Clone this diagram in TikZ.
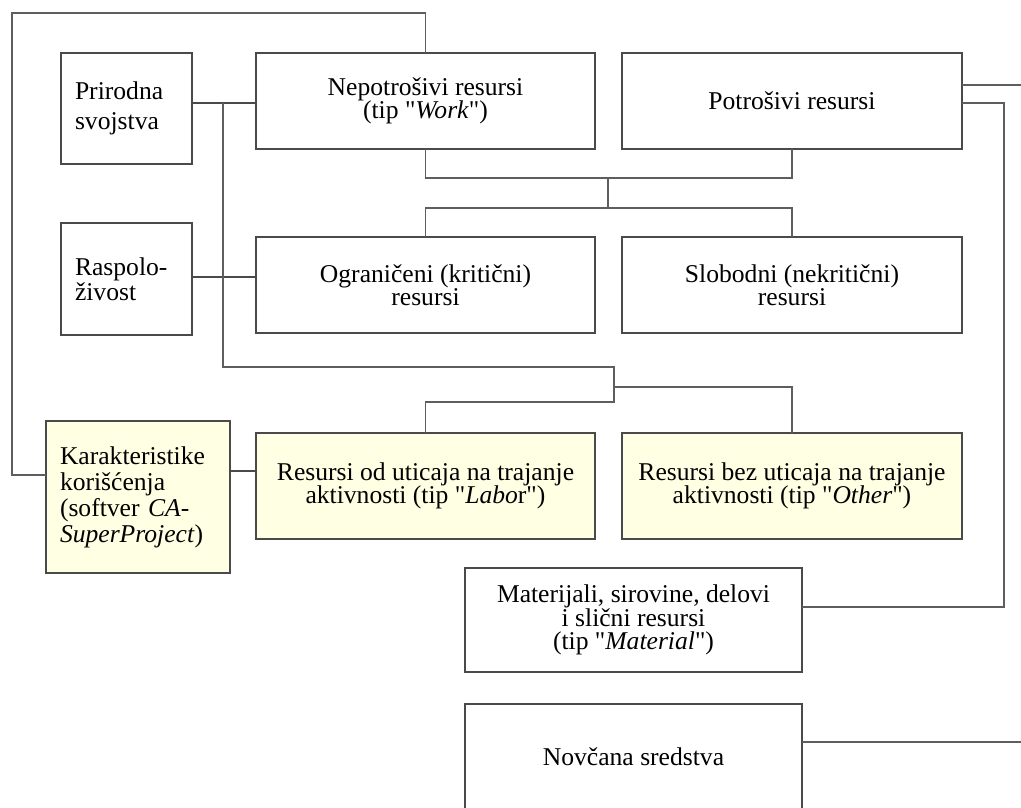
\documentclass[tikz,border=0pt]{standalone}
\usepackage{fontspec}
\setmainfont{Liberation Serif}[Ligatures=TeXOff]
\definecolor{boxline}{HTML}{4A4A4A}
\definecolor{linegray}{HTML}{5E5E5E}
\definecolor{notefill}{HTML}{FFFFE3}
\tikzset{
  box/.style 2 args={draw=boxline, line width=1.1pt, fill=white, inner sep=0pt,
    outer sep=0pt, align=center, minimum width=#1, minimum height=#2,
    font=\fontsize{25.6}{23.5}\selectfont},
  sidebox/.style 2 args={draw=boxline, line width=1.1pt, fill=white, inner ysep=0pt,
    inner xsep=14pt, outer sep=0pt, align=left, text width=#1, minimum height=#2},
  note/.style={fill=notefill},
  conn/.style={draw=linegray, line width=1.1pt},
  strong/.style={draw=boxline, line width=1.8pt},
}
\begin{document}
\begin{tikzpicture}[x=1pt, y=-1pt]
\useasboundingbox (0,0) rectangle (1021,807);

% attribute boxes on the left
\node[sidebox={103pt}{111pt}, font=\fontsize{25.6}{30}\selectfont] (prir) at (126.5,108.5)
  {Prirodna\\svojstva};
\node[sidebox={103pt}{112pt}, font=\fontsize{25.6}{25}\selectfont] (rasp) at (126.5,279)
  {Raspolo-\\živost};
\node[sidebox={156pt}{152pt}, note, font=\fontsize{25.6}{26}\selectfont] (kar) at (138,497)
  {Karakteristike\\korišćenja\\(softver \textit{CA-}\\\textit{SuperProject})};

% resource categories
\node[box={339pt}{96pt}] (nepo) at (425.5,101) {Nepotrošivi resursi\\(tip "\textit{Work}")};
\node[box={340pt}{96pt}] (potr) at (792,101) {Potrošivi resursi};
\node[box={339pt}{96pt}] (ogr) at (425.5,285) {Ograničeni (kritični)\\resursi};
\node[box={340pt}{96pt}] (slob) at (792,285) {Slobodni (nekritični)\\resursi};
\node[box={339pt}{106pt}, note] (rod) at (425.5,486)
  {Resursi od uticaja na trajanje\\aktivnosti (tip "\textit{Labo}r")};
\node[box={340pt}{106pt}, note] (rbez) at (792,486)
  {Resursi bez uticaja na trajanje\\aktivnosti (tip "\textit{Other}")};
\node[box={337pt}{104pt}] (mat) at (633.5,620)
  {Materijali, sirovine, delovi\\i slični resursi\\(tip "\textit{Material}")};
\node[box={337pt}{106pt}] (nov) at (633.5,757) {Novčana sredstva};

% junction points of the connectors
\coordinate (loopTL) at (12,13);
\coordinate (trunkTop) at (223,103);
\coordinate (trunkBot) at (223,367);
\coordinate (brA) at (614,367);
\coordinate (brB) at (614,402);
\coordinate (brC) at (614,387);
\coordinate (rline) at (0,277);
\coordinate (kline) at (0,471);
\coordinate (t1) at (608,178);
\coordinate (t2) at (608,208);
\coordinate (exitA) at (1030,85);
\coordinate (p2) at (1004,103);
\coordinate (m1) at (1004,607);
\coordinate (exitB) at (1030,742);

% usage characteristics loop to the non-consumable resources
\draw[conn] ([yshift=22pt]kar.west) -| (loopTL) -| (nepo.north);

% attribute links
\draw[strong] (prir.east |- trunkTop) -- (nepo.west |- trunkTop);
\draw[strong] (rasp.east |- rline) -- (ogr.west |- rline);
\draw[strong] (kar.east |- kline) -- (rod.west |- kline);

% trunk from natural properties to duration-related split
\draw[conn] (trunkTop) -- (trunkBot) -- (brA) -- (brB) -| (rod.north);
\draw[conn] (brC) -| (rbez.north);

% availability split
\draw[conn] (nepo.south) |- (t1) -| (potr.south);
\draw[conn] (t1) -- (t2);
\draw[conn] (ogr.north) |- (t2) -| (slob.north);

% consumable resources
\draw[conn] (potr.east |- exitA) -- (exitA);
\draw[conn] (potr.east |- p2) -| (m1) -- (mat.east |- m1);
\draw[conn] (nov.east |- exitB) -- (exitB);
\end{tikzpicture}
\end{document}
